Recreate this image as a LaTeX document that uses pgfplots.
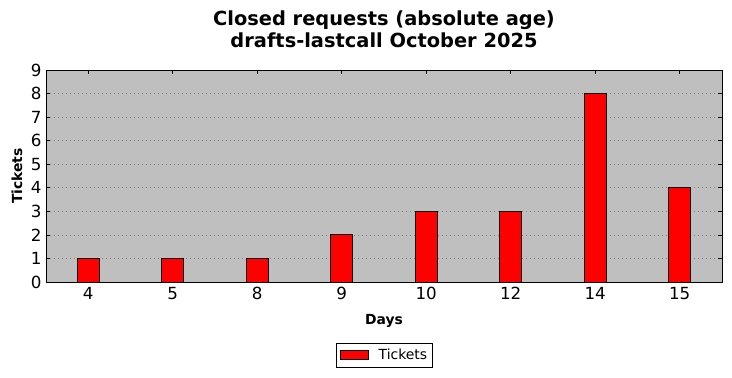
\documentclass[border=0pt]{standalone}
\usepackage{pgfplots}
\pgfplotsset{compat=1.18}
\usepackage{fontspec}
\setmainfont{DejaVu Sans}
\begin{document}
\begin{tikzpicture}
\path[use as bounding box] (-46bp,-96bp) rectangle (686bp,282bp);
\begin{axis}[
  at={(0,0)}, anchor=south west,
  scale only axis, width=676bp, height=212bp,
  xmin=-0.5, xmax=7.5, ymin=0, ymax=9,
  xtick={0,...,7}, xticklabels={4,5,8,9,10,12,14,15},
  ytick={0,...,9},
  ymajorgrids, grid style={dash pattern=on 1bp off 3bp, black!50, line width=0.6bp},
  axis background/.style={fill=black!25},
  tick align=inside, tick pos=both, major tick length=4bp,
  tick style={black, line width=0.6bp},
  axis line style={line width=0.8bp},
  /pgf/number format/assume math mode=true,
  ticklabel style={font=\fontsize{16.7bp}{20bp}\selectfont},
  xticklabel style={yshift=-2bp},
  yticklabel style={xshift=-1bp},
  xlabel={Days}, ylabel={Tickets},
  label style={font=\bfseries\fontsize{13.9bp}{16bp}\selectfont},
  xlabel style={at={(axis description cs:0.5,0)}, anchor=base, yshift=-42bp},
  ylabel style={at={(axis description cs:-0.0429,0.5)}, anchor=center},
  title={Closed requests (absolute age)\\drafts-lastcall October 2025},
  title style={at={(axis description cs:0.5,1)}, anchor=south, inner sep=0pt, yshift=16bp,
    align=center, font=\bfseries\fontsize{19.4bp}{22bp}\selectfont},
  legend style={at={(axis description cs:0.5,-0.344)}, anchor=center, draw=black,
    font=\fontsize{13.9bp}{16bp}\selectfont, inner xsep=3bp, inner ysep=4bp,
    nodes={inner xsep=2bp}},
  legend image code/.code={\draw[#1] (0bp,-4.5bp) rectangle (28bp,4.5bp); \path (-1bp,0) (36bp,0);},
]
\addplot[ybar, bar width=0.26, fill=red, draw=black, line width=0.8bp] coordinates {
  (0,1) (1,1) (2,1) (3,2) (4,3) (5,3) (6,8) (7,4)
};
\legend{Tickets}
\end{axis}
\end{tikzpicture}
\end{document}
